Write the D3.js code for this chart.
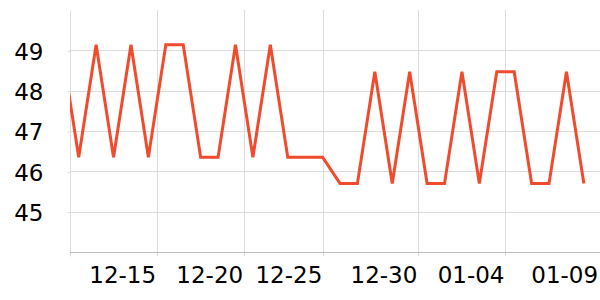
<!DOCTYPE html>
<html>
<head>
<meta charset="utf-8">
<script type="text/javascript" src="https://cdn.jsdelivr.net/npm/d3@7/dist/d3.min.js"></script>
<style>
  body { margin: 0; background: #fff; }
  svg { display: block; }
  .grid line { stroke: #dcdcdc; stroke-width: 1; }
  .axis text { font: 23px "DejaVu Sans", sans-serif; fill: #000; }
  .line { fill: none; stroke: #ef4b2c; stroke-width: 3; stroke-linejoin: miter; }
</style>
</head>
<body>
<svg id="svg"></svg>
<script type="text/javascript">
// daily values, one per day (plotted at noon)
var days = ["2023-12-09", "2023-12-10", "2023-12-11", "2023-12-12", "2023-12-13", "2023-12-14",
            "2023-12-15", "2023-12-16", "2023-12-17", "2023-12-18", "2023-12-19", "2023-12-20",
            "2023-12-21", "2023-12-22", "2023-12-23", "2023-12-24", "2023-12-25", "2023-12-26",
            "2023-12-27", "2023-12-28", "2023-12-29", "2023-12-30", "2023-12-31", "2024-01-01",
            "2024-01-02", "2024-01-03", "2024-01-04", "2024-01-05", "2024-01-06", "2024-01-07",
            "2024-01-08"];
var values = [49.14, 46.35, 49.14, 46.35, 49.14, 46.35, 49.14, 49.14, 46.35, 46.35, 49.14,
              46.35, 49.14, 46.35, 46.35, 46.35, 45.70, 45.70, 48.47, 45.70, 48.47, 45.70,
              45.70, 48.47, 45.70, 48.47, 48.47, 45.70, 45.70, 48.47, 45.70];

// axis ticks as they sit on the picture
var gridTicks = ["2023-12-15T00:00", "2023-12-20T00:00", "2023-12-24T13:00", "2023-12-30T00:00", "2024-01-04T00:00"];
var labelTicks = ["2023-12-15T00:00", "2023-12-20T00:00", "2023-12-24T13:00", "2023-12-30T00:00", "2024-01-04T00:00", "2024-01-09T09:00"];
var tickLabels = ["12-15", "12-20", "12-25", "12-30", "01-04", "01-09"];
var yTicks = [45, 46, 47, 48, 49];
var yDomain = [44, 50];
var xDomain = ["2023-12-10T00:00", "2024-01-10T00:00"];

var width = 600,
    height = 300,
    mLeft = 70,
    mTop = 10,
    mBottom = 252,
    mRight = 610;

var parseDay = d3.timeParse("%Y-%m-%d");
var parseTime = d3.timeParse("%Y-%m-%dT%H:%M");

var data = days.map(function(d, i) {
  return { date: d3.timeHour.offset(parseDay(d), 12), value: values[i] };
});

var x = d3.scaleTime()
  .domain(xDomain.map(parseTime))
  .range([mLeft, mRight]);

var y = d3.scaleLinear()
  .domain(yDomain)
  .range([mBottom, mTop]);

var svg = d3.select("#svg")
  .attr("width", width)
  .attr("height", height);

svg.append("clipPath").attr("id", "clip")
  .append("rect")
  .attr("x", mLeft)
  .attr("y", 0)
  .attr("width", width - mLeft)
  .attr("height", height);

// horizontal grid
svg.append("g").attr("class", "grid")
  .selectAll("line")
  .data(yTicks)
  .enter().append("line")
  .attr("x1", mLeft)
  .attr("x2", width)
  .attr("y1", function(d) { return Math.round(y(d)) + 0.5; })
  .attr("y2", function(d) { return Math.round(y(d)) + 0.5; });

// vertical grid (runs a bit under the axis as tick marks)
svg.append("g").attr("class", "grid")
  .selectAll("line")
  .data(gridTicks.map(parseTime))
  .enter().append("line")
  .attr("x1", function(d) { return Math.round(x(d)) + 0.5; })
  .attr("x2", function(d) { return Math.round(x(d)) + 0.5; })
  .attr("y1", mTop)
  .attr("y2", mBottom + 4);

// left axis
var yAxis = svg.append("g")
  .attr("class", "axis")
  .attr("transform", "translate(" + (mLeft + 0.5) + ",0.5)")
  .call(d3.axisLeft(y).tickValues(yTicks).tickSize(3).tickPadding(24).tickFormat(d3.format("d")));
yAxis.select(".domain").attr("stroke", "#dcdcdc").attr("d", "M0," + mTop + "V" + (mBottom + 4));
yAxis.selectAll(".tick line").attr("stroke", "#dcdcdc");
yAxis.selectAll(".tick text").attr("dy", "0.36em");

// bottom axis line
svg.append("line")
  .attr("x1", mLeft)
  .attr("x2", width)
  .attr("y1", mBottom + 0.5)
  .attr("y2", mBottom + 0.5)
  .attr("stroke", "#bdbdbd");

// bottom labels, right aligned on their tick
svg.append("g").attr("class", "axis")
  .selectAll("text")
  .data(labelTicks.map(parseTime))
  .enter().append("text")
  .attr("x", function(d) { return x(d) - 1; })
  .attr("y", mBottom + 31)
  .attr("text-anchor", "end")
  .text(function(d, i) { return tickLabels[i]; });

var line = d3.line()
  .x(function(d) { return x(d.date); })
  .y(function(d) { return y(d.value); });

svg.append("path")
  .datum(data)
  .attr("class", "line")
  .attr("clip-path", "url(#clip)")
  .attr("d", line);
</script>
</body>
</html>
